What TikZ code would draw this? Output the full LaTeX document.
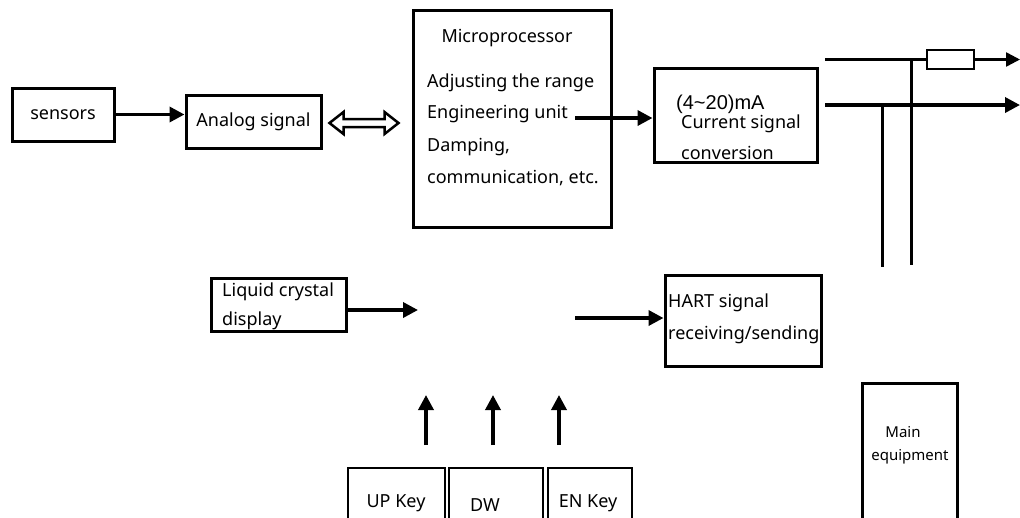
\documentclass[tikz,border=0pt]{standalone}
\usepackage{fontspec}
\setmainfont{Noto Sans}
\newfontfamily\arialfont{Liberation Sans}
\usetikzlibrary{arrows.meta,calc}

\begin{document}
\begin{tikzpicture}[x=1pt,y=-1pt,
  box/.style={draw,line width=3pt,inner sep=0pt},
  lbl/.style={inner sep=0pt,font=\fontsize{18}{21}\selectfont},
  small/.style={inner sep=0pt,font=\fontsize{15}{17}\selectfont},
  arr/.style={line width=3.5pt,-{Triangle[length=15pt,width=15pt]}}]
        \clip (0,0) rectangle (1020,517);
        \fill[white] (0,0) rectangle (1020,517);
        % top row
        \node[box,lbl,minimum width=102pt,minimum height=53pt] (sensors) at (63,114.5) {sensors};
        \node[box,lbl,minimum width=135pt,minimum height=53pt] (analog) at (253.5,121.5) {Analog signal};
        \node[box,minimum width=198pt,minimum height=217pt] (micro) at (512,118.5) {};
        \node[lbl] (mtitle) at (507,38) {Microprocessor};
        \node[lbl,anchor=west] (m1) at (427,83) {Adjusting the range};
        \node[lbl,anchor=west] (m2) at (427,114) {Engineering unit};
        \node[lbl,anchor=west] (m3) at (427,147) {Damping,};
        \node[lbl,anchor=west] (m4) at (427,178) {communication, etc.};
        \node[box,minimum width=163pt,minimum height=94pt] (current) at (735.5,115) {};
        \node[inner sep=0pt,anchor=west,font=\arialfont\fontsize{20}{22}\selectfont] (c1) at (676,104) {(4\textasciitilde20)mA};
        \node[lbl,anchor=west] (c2) at (681,124) {Current signal};
        \node[lbl,anchor=west] (c3) at (681,153) {conversion};
        \draw[arr] (sensors.east) -- (analog.west |- sensors.east);
        % hollow double arrow
        \coordinate (da) at ($(analog.east)+(7,1.5)$);
        \coordinate (db) at ($(analog.east -| micro.west)+(-13,1.5)$);
        \draw[line width=2.5pt,line join=miter] (da) -- ($(da)+(14,-11)$) -- ($(da)+(14,-4)$) -- ($(db)+(-14,-4)$)
          -- ($(db)+(-14,-11)$) -- (db) -- ($(db)+(-14,11)$) -- ($(db)+(-14,4)$) -- ($(da)+(14,4)$) -- ($(da)+(14,11)$) -- cycle;
        \coordinate (eng) at (575,118);
        \draw[arr] (eng) -- (eng -| current.west);
        % output wires
        \coordinate (w1) at (825,59.5);
        \coordinate (w2) at (825,105);
        \coordinate (o1) at (1020,59.5);
        \coordinate (o2) at (1020,105);
        \node[draw,line width=2.5pt,inner sep=0pt,minimum width=47pt,minimum height=19pt] (res) at (950.5,59.5) {};
        \draw[line width=2.5pt] (w1) -- (res.west);
        \draw[line width=2.5pt,-{Triangle[length=14pt,width=14pt]}] (res.east) -- (o1);
        \draw[arr] (w2) -- (o2);
        \coordinate (v1) at (911,59.5);
        \coordinate (v1b) at (911,265);
        \coordinate (v2) at (882,105);
        \coordinate (v2b) at (882,267);
        \draw[line width=3pt] (v1) -- (v1b);
        \draw[line width=3pt] (v2) -- (v2b);
        % middle row
        \node[box,minimum width=135pt,minimum height=53pt] (lcd) at (278.5,304.5) {};
        \node[lbl,anchor=west] (l1) at (222,292) {Liquid crystal};
        \node[lbl,anchor=west] (l2) at (222,321) {display};
        \coordinate (lcdend) at (418,310);
        \draw[arr] (lcd.east |- lcdend) -- (lcdend);
        \node[box,minimum width=156pt,minimum height=91pt] (hart) at (743,320.5) {};
        \node[lbl,anchor=west] (h1) at (668,303) {HART signal};
        \node[lbl,anchor=west] (h2) at (668,335) {receiving/sending};
        \coordinate (hstart) at (575,318);
        \draw[arr] (hstart) -- (hstart -| hart.west);
        % keys
        \foreach \x [count=\i] in {426,493,559} {
          \coordinate (k\i) at (\x,445);
          \coordinate (k\i t) at (\x,395);
          \draw[arr] (k\i) -- (k\i t);
        }
        \node[box,line width=2.5pt,minimum width=97pt,minimum height=70pt] (up) at (396.5,503) {};
        \node[box,line width=2.5pt,minimum width=94pt,minimum height=70pt] (dw) at (496,503) {};
        \node[box,line width=2.5pt,minimum width=84pt,minimum height=70pt] (en) at (590,503) {};
        \node[lbl] (uplbl) at (396,503) {UP Key};
        \node[lbl] (dwlbl) at (485,505) {DW};
        \node[lbl] (enlbl) at (588,503) {EN Key};
        % main equipment
        \node[box,minimum width=95pt,minimum height=157pt] (main) at (909.5,461.5) {};
        \node[small] (mn1) at (903,432) {Main};
        \node[small] (mn2) at (910,457) {equipment};
\end{tikzpicture}
\end{document}
